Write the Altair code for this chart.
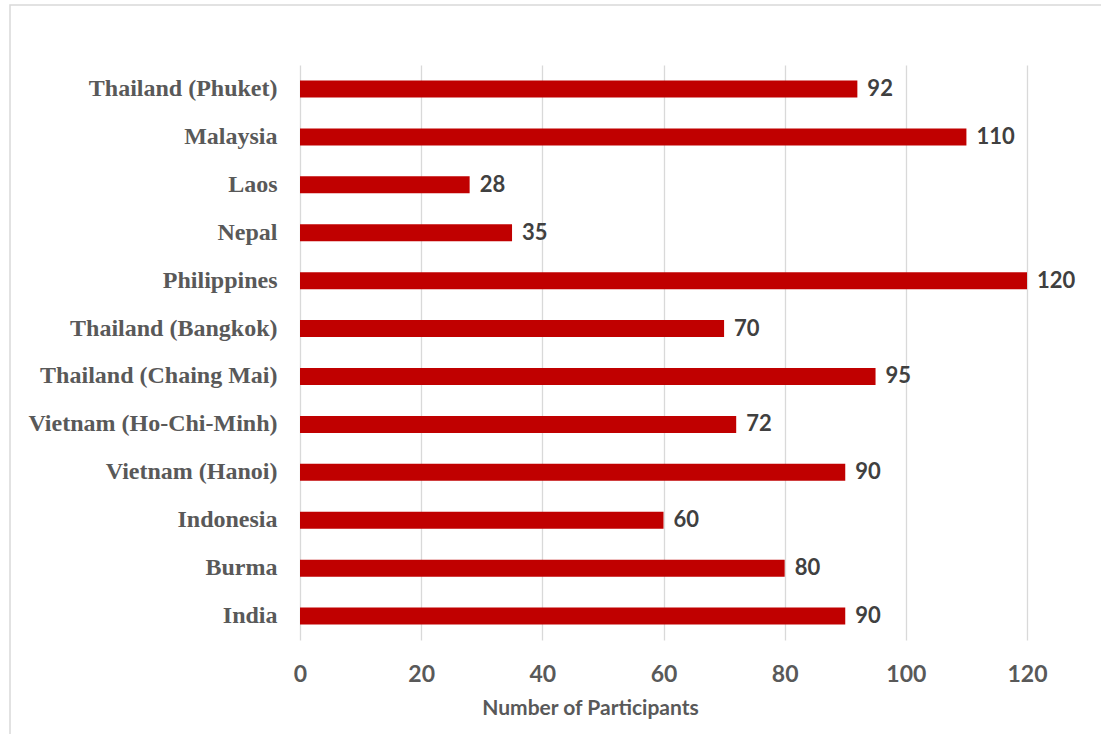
import altair as alt
import pandas as pd

countries = ["Thailand (Phuket)", "Malaysia", "Laos", "Nepal", "Philippines",
             "Thailand (Bangkok)", "Thailand (Chaing Mai)", "Vietnam (Ho-Chi-Minh)",
             "Vietnam (Hanoi)", "Indonesia", "Burma", "India"]
participants = [92, 110, 28, 35, 120, 70, 95, 72, 90, 60, 80, 90]
x_ticks = [0, 20, 40, 60, 80, 100, 120]

df = pd.DataFrame({"country": countries, "n": participants})

W, H = 727, 575

y_enc = alt.Y("country:N", sort=countries, title=None,
              scale=alt.Scale(paddingInner=0, paddingOuter=0),
              axis=alt.Axis(labelFont="Liberation Serif", labelFontWeight="bold",
                            labelFontSize=24, labelColor="#595959", labelPadding=23,
                            labelLimit=400,
                            ticks=False, domain=False, grid=False))
x_enc = alt.X("n:Q", title="Number of Participants",
              scale=alt.Scale(domain=[0, 120], nice=False),
              axis=alt.Axis(values=x_ticks, labelFont="Lato", labelFontWeight="bold",
                            labelFontSize=23, labelColor="#595959", labelPadding=23,
                            labelFlush=False,
                            ticks=False, domain=False, grid=True, gridColor="#d9d9d9",
                            gridWidth=1.3,
                            titleFont="Lato", titleFontWeight="bold", titleFontSize=21,
                            titleColor="#595959", titleX=290, titleY=68,
                            titleAlign="center", titleBaseline="middle"))

bars = alt.Chart(df).mark_bar(color="#C00000", size=17).encode(x=x_enc, y=y_enc)
labels = alt.Chart(df).mark_text(align="left", baseline="middle", dx=10,
                                 font="Lato", fontWeight="bold", fontSize=22,
                                 color="#404040").encode(
    x="n:Q", y=alt.Y("country:N", sort=countries), text="n:Q")

frame = alt.Chart(pd.DataFrame({"a": [0]})).mark_rect(
    fill=None, stroke="#d9d9d9", strokeWidth=1.5, clip=False).encode(
    x=alt.value(-290), x2=alt.value(900), y=alt.value(-60), y2=alt.value(700))

chart = alt.layer(frame, bars, labels).properties(
    width=W, height=H,
    autosize=alt.AutoSizeParams(type="none"),
    padding={"left": 300, "top": 65, "right": 74, "bottom": 94},
    background="white",
).configure_view(strokeWidth=0, stroke="transparent")

chart.save("out.html", embed_options={"renderer": "svg", "actions": False})
